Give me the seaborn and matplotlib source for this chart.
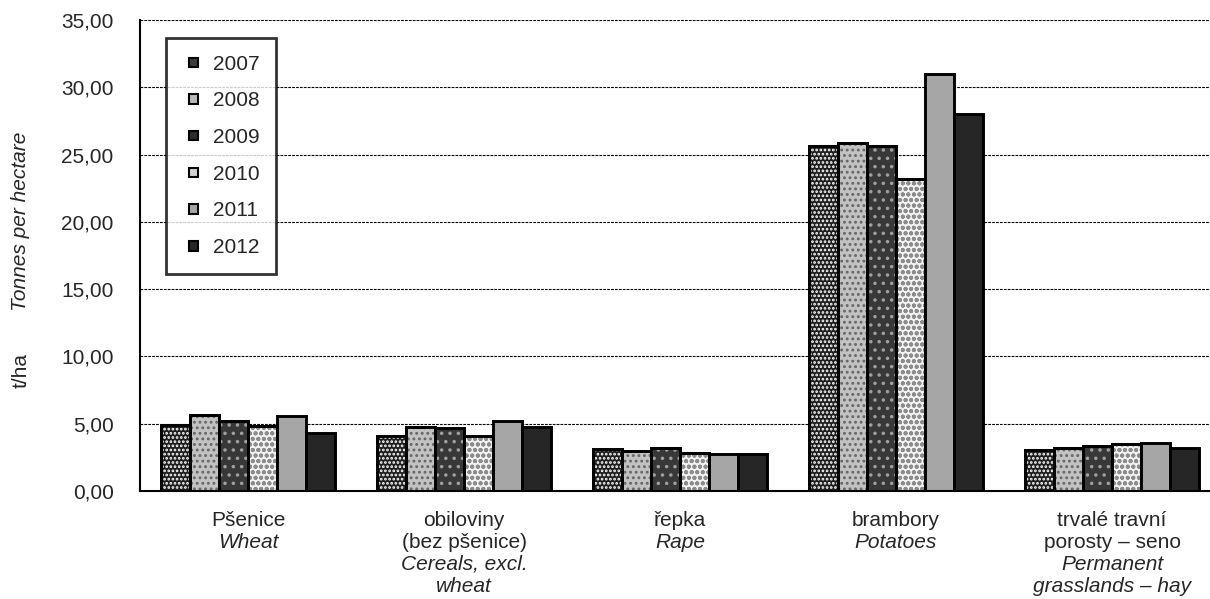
import matplotlib
matplotlib.use("Agg")
import matplotlib.pyplot as plt
from matplotlib.patches import Rectangle, Patch
from matplotlib.legend_handler import HandlerPatch
import pandas as pd
import seaborn as sns

# values (t/ha)
years = ["2007", "2008", "2009", "2010", "2011", "2012"]
crops_cz = ["Pšenice", "obiloviny\n(bez pšenice)", "řepka", "brambory", "trvalé travní\nporosty – seno"]
crops_en = ["Wheat", "Cereals, excl.\nwheat", "Rape", "Potatoes", "Permanent\ngrasslands – hay"]
wheat = [4.93, 5.67, 5.18, 4.82, 5.57, 4.30]
cereals = [4.12, 4.75, 4.70, 4.12, 5.20, 4.75]
rape = [3.10, 3.00, 3.20, 2.83, 2.74, 2.76]
potatoes = [25.62, 25.87, 25.62, 23.20, 31.00, 28.00]
grassland = [3.02, 3.22, 3.34, 3.49, 3.56, 3.22]

yticks = [0, 5, 10, 15, 20, 25, 30, 35]

# bar styles per year: face colour, hatch, hatch colour, legend swatch colour
faces = ["#1e1e1e", "#c2c2c2", "#383838", "#f2f2f2", "#a6a6a6", "#262626"]
hatches = ["....", "...", "..", "ooo", "", ""]
hatch_cols = ["white", "#666666", "#a0a0a0", "#8c8c8c", None, None]
swatch = ["#3c3c3c", "#b8b8b8", "#2e2e2e", "#d4d4d4", "#a6a6a6", "#262626"]

sns.set_style("white")
plt.rcParams["font.family"] = ["Liberation Sans", "DejaVu Sans"]
plt.rcParams["hatch.linewidth"] = 1.3

rows = []
for crop, vals in zip(crops_cz, [wheat, cereals, rape, potatoes, grassland]):
    for yr, v in zip(years, vals):
        rows.append({"crop": crop, "year": yr, "tha": v})
df = pd.DataFrame(rows)

fig = plt.figure(figsize=(12.1, 5.99), dpi=100)
ax = fig.add_axes([140 / 1210, 108 / 599, 1080 / 1210, 471 / 599])

sns.barplot(data=df, x="crop", y="tha", hue="year", palette=faces, saturation=1,
            width=0.81, edgecolor="black", linewidth=2.1, legend=False, ax=ax, zorder=2)

# pattern overlays taken from each seaborn bar
for i, cont in enumerate(ax.containers):
    for bar in cont:
        bar.set_facecolor(faces[i])
        if hatches[i]:
            ax.add_patch(Rectangle(bar.get_xy(), bar.get_width(), bar.get_height(),
                                   fill=False, hatch=hatches[i], edgecolor=hatch_cols[i],
                                   linewidth=0, zorder=2.5))
            ax.add_patch(Rectangle(bar.get_xy(), bar.get_width(), bar.get_height(),
                                   fill=False, edgecolor="black", linewidth=2.1, zorder=2.6))

ax.set_xlim(-0.5, 4.5)
ax.set_ylim(0, 35)
ax.set_yticks(yticks)
ax.set_yticklabels([f"{v:.2f}".replace(".", ",") for v in yticks], fontsize=15)
ax.set_xticks([0.5, 1.5, 2.5, 3.5, 4.5])
ax.set_xticklabels([])
ax.tick_params(axis="both", direction="inout", length=10, width=1.2, color="black")
ax.tick_params(axis="y", pad=14)
ax.set_xlabel("")
ax.set_ylabel("")
ax.yaxis.grid(True, linestyle=(0, (2.5, 1)), color="black", linewidth=0.8)
ax.set_axisbelow(True)
for side in ["top", "right"]:
    ax.spines[side].set_visible(False)
for side in ["left", "bottom"]:
    ax.spines[side].set_color("black")
    ax.spines[side].set_linewidth(1.5)

# two-language category labels: Czech upright, English italic
for i, (cz, en) in enumerate(zip(crops_cz, crops_en)):
    lines = [(t, "normal") for t in cz.split("\n")] + [(t, "italic") for t in en.split("\n")]
    for k, (t, st) in enumerate(lines):
        ax.annotate(t, xy=(i, 0), xycoords=("data", "axes fraction"),
                    xytext=(0, -(29 + 22 * k) * 0.72), textcoords="offset points",
                    ha="center", va="center", fontsize=15, style=st)

fig.text(21 / 1210, 1 - 221 / 599, "Tonnes per hectare", rotation=90, style="italic",
         ha="center", va="center", fontsize=15)
fig.text(21 / 1210, 1 - 370 / 599, "t/ha", rotation=90, ha="center", va="center", fontsize=15)


def small_square(legend, orig_handle, xdescent, ydescent, width, height, fontsize):
    s = 0.45 * fontsize
    return Rectangle((width - xdescent - s, -ydescent + (height - s) / 2), s, s)


handles = [Patch(facecolor=c, edgecolor="black", linewidth=1.5) for c in swatch]
leg = ax.legend(handles, years, loc="upper left", bbox_to_anchor=(0.024, 0.962),
                borderaxespad=0, fontsize=15, frameon=True, fancybox=False,
                handlelength=0.75, handleheight=0.7, handletextpad=0.7,
                labelspacing=0.85, borderpad=0.8,
                handler_map={Patch: HandlerPatch(patch_func=small_square)})
leg.get_frame().set_edgecolor("black")
leg.get_frame().set_linewidth(2)

fig.savefig("out.png", dpi=100)
